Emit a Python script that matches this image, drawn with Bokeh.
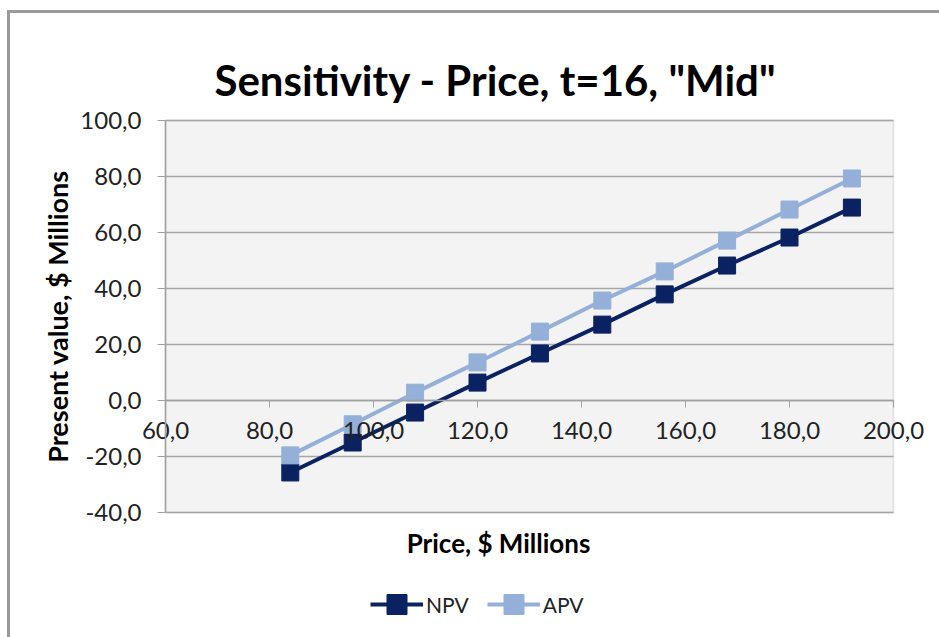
from bokeh.plotting import figure
from bokeh.models import (ColumnDataSource, Legend, LegendItem, CustomJSTickFormatter,
                          FixedTicker, Range1d, Label, BoxAnnotation)
from bokeh.embed import file_html
from bokeh.resources import INLINE

# ---- data ----
price = [84, 96, 108, 120, 132, 144, 156, 168, 180, 192]
npv = [-25.7, -15.0, -4.3, 6.4, 16.8, 27.1, 37.9, 48.2, 58.2, 68.9]
apv = [-19.6, -8.5, 2.8, 13.6, 24.6, 35.7, 46.1, 57.1, 68.2, 79.3]
x_ticks = [60, 80, 100, 120, 140, 160, 180, 200]
y_ticks = [-40, -20, 0, 20, 40, 60, 80, 100]
X_MIN, X_MAX = 60, 200
Y_MIN, Y_MAX = -40, 100

# ---- layout (pixels) ----
W, H = 939, 637
PA_LEFT, PA_RIGHT, PA_TOP, PA_BOTTOM = 165, 893, 120, 512   # plot-area box
sx = (PA_RIGHT - PA_LEFT) / (X_MAX - X_MIN)
sy = (PA_BOTTOM - PA_TOP) / (Y_MAX - Y_MIN)

def px_x(px):
    return X_MIN + (px - PA_LEFT) / sx

def px_y(py):
    return Y_MAX + (PA_TOP - py) / sy

FONT = "Lato"
NPV_COLOR = "#0a2262"
APV_COLOR = "#94b0d8"
AXIS_COLOR = "#a0a0a0"
GRID_COLOR = "#a6a6a6"

src = ColumnDataSource(dict(price=price, npv=npv, apv=apv))

# the frame covers the whole chart; axes cross inside it (Excel style)
p = figure(frame_width=W, frame_height=H, output_backend="svg", toolbar_location=None,
           x_range=Range1d(px_x(0), px_x(W)), y_range=Range1d(px_y(H), px_y(0)),
           min_border=0, min_border_left=0, min_border_right=0,
           min_border_top=0, min_border_bottom=0)
p.background_fill_color = None
p.border_fill_color = None
p.outline_line_color = None
p.xgrid.visible = False
p.ygrid.visible = False

# chart-area border (left and top edges)
p.styles = {
    "background-color": "white",
    "background-image": "linear-gradient(#9a9a9a,#9a9a9a), linear-gradient(#9a9a9a,#9a9a9a)",
    "background-size": "3px 100%, 100% 3px",
    "background-position": "7px 10px, 7px 10px",
    "background-repeat": "no-repeat",
}

# plot area
p.add_layout(BoxAnnotation(left=X_MIN, right=X_MAX, bottom=Y_MIN, top=Y_MAX,
                           fill_color="#f3f3f3", fill_alpha=1.0,
                           line_color="#b4b4b4", line_width=2, level="underlay"))

# horizontal gridlines across the plot area
p.segment(x0=[X_MIN] * len(y_ticks), x1=[X_MAX] * len(y_ticks), y0=y_ticks, y1=y_ticks,
          line_color=GRID_COLOR, line_width=1.5)

fmt = CustomJSTickFormatter(code="return tick.toFixed(1).replace('.', ',');")

# y axis at x = 60
ya = p.yaxis[0]
ya.fixed_location = X_MIN
ya.bounds = (Y_MIN, Y_MAX)
ya.ticker = FixedTicker(ticks=y_ticks)
ya.formatter = fmt
ya.major_tick_out = 8
ya.major_tick_in = 0
ya.minor_tick_line_color = None
ya.axis_line_color = AXIS_COLOR
ya.axis_line_width = 1.5
ya.major_tick_line_color = AXIS_COLOR
ya.major_label_text_font = FONT
ya.major_label_text_font_size = "24px"
ya.major_label_text_color = "#222222"
ya.major_label_standoff = 16
ya.axis_label = "Present value, $ Millions"
ya.axis_label_text_font = FONT
ya.axis_label_text_font_size = "27px"
ya.axis_label_text_font_style = "bold"
ya.axis_label_text_color = "black"
ya.axis_label_standoff = 3

# x axis at y = 0
xa = p.xaxis[0]
xa.fixed_location = 0
xa.bounds = (X_MIN, X_MAX)
xa.ticker = FixedTicker(ticks=x_ticks)
xa.formatter = fmt
xa.major_tick_out = 7
xa.major_tick_in = 0
xa.minor_tick_line_color = None
xa.axis_line_color = AXIS_COLOR
xa.axis_line_width = 1.5
xa.major_tick_line_color = AXIS_COLOR
xa.major_label_text_font = FONT
xa.major_label_text_font_size = "24px"
xa.major_label_text_color = "#222222"
xa.major_label_standoff = 14

# titles
p.add_layout(Label(x=px_x(495), y=px_y(79), text='Sensitivity - Price, t=16, "Mid"',
                   text_align="center", text_baseline="alphabetic", text_font=FONT,
                   text_font_size="42px", text_font_style="bold", text_color="black"))
p.add_layout(Label(x=px_x(498), y=px_y(542), text="Price, $ Millions",
                   text_align="center", text_baseline="alphabetic", text_font=FONT,
                   text_font_size="26px", text_font_style="bold", text_color="black"))

# series
l1 = p.line("price", "npv", source=src, line_color=NPV_COLOR, line_width=4)
m1 = p.scatter("price", "npv", source=src, marker="square", size=17,
               fill_color=NPV_COLOR, line_color=NPV_COLOR)
l2 = p.line("price", "apv", source=src, line_color=APV_COLOR, line_width=4)
m2 = p.scatter("price", "apv", source=src, marker="square", size=17,
               fill_color=APV_COLOR, line_color=APV_COLOR)

legend = Legend(items=[LegendItem(label="NPV", renderers=[l1, m1]),
                       LegendItem(label="APV", renderers=[l2, m2])],
                orientation="horizontal", location=(370, 8),
                label_text_font=FONT, label_text_font_size="21px",
                label_text_color="#222222", border_line_color=None,
                background_fill_alpha=0, glyph_width=53, glyph_height=50,
                spacing=18, label_standoff=3, padding=5, margin=0)
p.add_layout(legend, "center")

open("out.html", "w").write(file_html(p, INLINE))
